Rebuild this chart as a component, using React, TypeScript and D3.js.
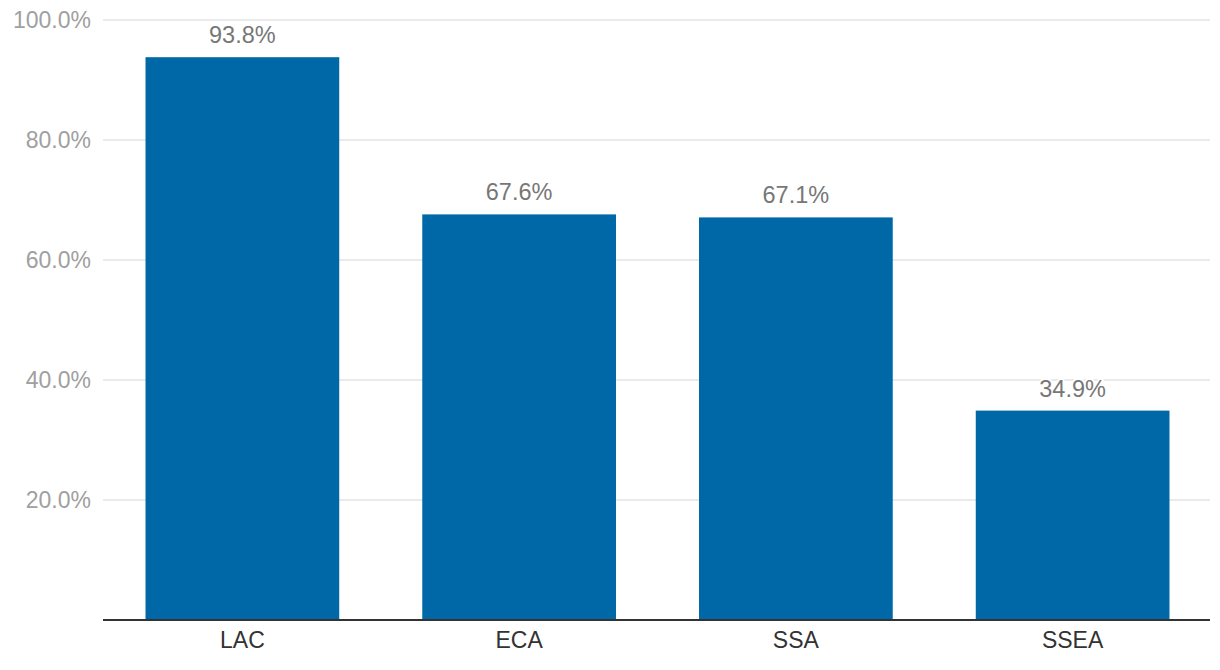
import React from "react";
import * as d3 from "d3";

const categories = ["LAC", "ECA", "SSA", "SSEA"];
const values = [93.8, 67.6, 67.1, 34.9];
const yTicks = [20, 40, 60, 80, 100];

export default function App() {
  const width = 1220, height = 670;
  const left = 103, right = 1210, top = 20, bottom = 620;
  const x = d3.scaleBand<string>().domain(categories).range([left + 1, right + 1]).paddingInner(0.3).paddingOuter(0.15);
  const y = d3.scaleLinear().domain([0, 100]).range([bottom, top]);
  const font = "'Liberation Sans', Arial, Helvetica, sans-serif";
  return (
    <svg width={width} height={height} style={{ position: "absolute", left: 0, top: 0, fontFamily: font }}>
      <rect width={width} height={height} fill="#fff" />
      {yTicks.map((t) => (
        <g key={t}>
          <line x1={left} x2={right} y1={y(t)} y2={y(t)} stroke="#e3e3e3" strokeWidth={1.5} />
          <text x={91} y={y(t)} dy="0.36em" textAnchor="end" fontSize={23} fill="#a0a0a0">
            {d3.format(".1f")(t) + "%"}
          </text>
        </g>
      ))}
      {categories.map((c, i) => (
        <rect key={c} x={x(c)} y={y(values[i])} width={x.bandwidth()} height={bottom - y(values[i])} fill="#0068a6" />
      ))}
      {categories.map((c, i) => (
        <text key={c} x={(x(c) as number) + x.bandwidth() / 2} y={y(values[i]) - 14} textAnchor="middle" fontSize={23.5}
          fill="#777" stroke="#fff" strokeWidth={4} paintOrder="stroke" strokeLinejoin="round">
          {d3.format(".1f")(values[i]) + "%"}
        </text>
      ))}
      <line x1={left} x2={right} y1={bottom} y2={bottom} stroke="#333" strokeWidth={2} />
      {categories.map((c) => (
        <text key={c} x={(x(c) as number) + x.bandwidth() / 2} y={648} textAnchor="middle" fontSize={23} fill="#333">
          {c}
        </text>
      ))}
    </svg>
  );
}
